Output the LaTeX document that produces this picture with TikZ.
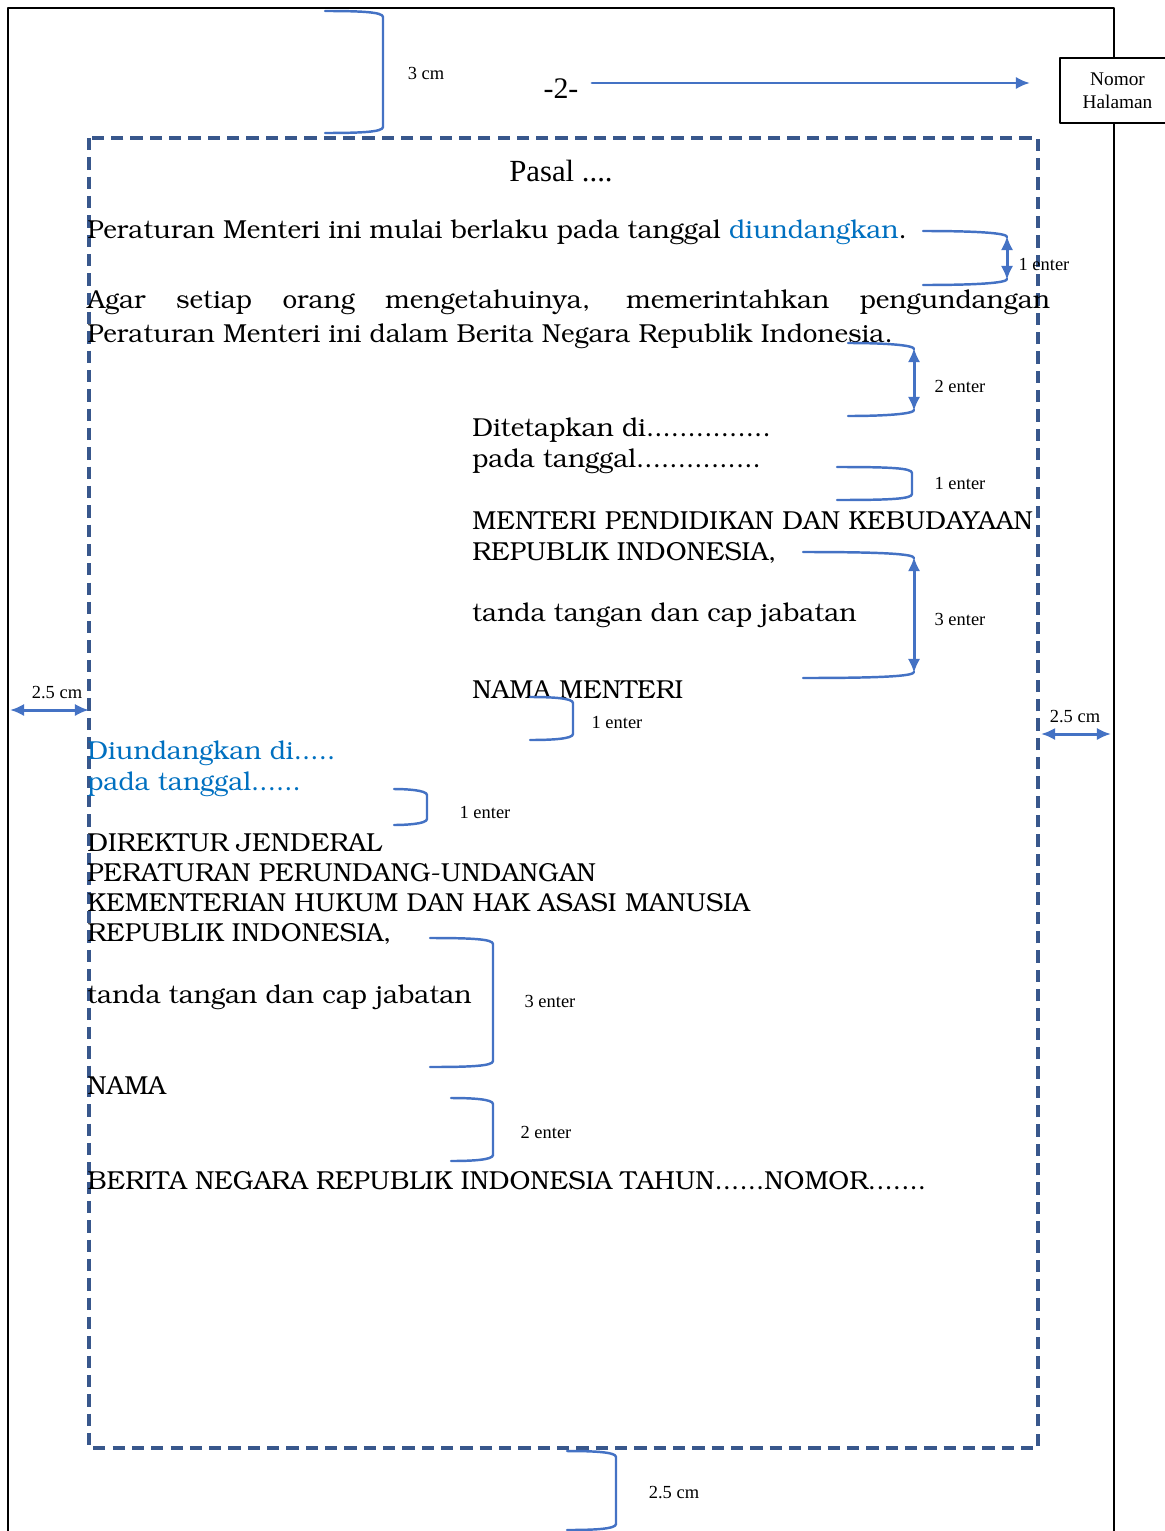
\documentclass[tikz,border=0pt]{standalone}
\usepackage[T1]{fontenc}
\usepackage{fontspec}
\setmainfont{Liberation Serif}
\usetikzlibrary{arrows.meta}
\definecolor{bracecol}{RGB}{68,114,196}
\definecolor{margincol}{RGB}{56,87,140}
\definecolor{txtblue}{RGB}{0,112,192}
\newcommand\bkfont{\fontencoding{T1}\fontfamily{pbk}\fontseries{l}\selectfont}
\begin{document}
\begin{tikzpicture}[x=0.02cm,y=-0.02cm,line cap=round,line join=round,
  >={Latex[length=8pt,width=7pt]},
  brak/.style={draw=bracecol,line width=1.4pt},
  arr/.style={draw=bracecol,line width=1.7pt},
  margin/.style={draw=margincol,line width=1.9pt,dash pattern=on 7pt off 4pt,line cap=butt},
  body/.style={anchor=base west,inner sep=0pt,font=\bkfont\fontsize{14.8}{17}\selectfont},
  lbl/.style={inner sep=0pt,font=\fontsize{10.5}{12}\selectfont}]
  \useasboundingbox (0,0) rectangle (1165,1531);
  \draw[line width=1.6pt,line cap=butt] (8,1545) -- (8,8) -- (1114,8) -- (1114,1545);
  \node[draw,fill=white,line width=1.4pt,minimum width=2.3cm,minimum height=1.3cm,
        align=center,font=\fontsize{11}{13}\selectfont] (nomor) at (1117.5,90.5) {Nomor\\Halaman};
  \node[font=\fontsize{17}{19}\selectfont] (pg) at (561,89) {-2-};
  \coordinate (pgs) at (592,83);
  \coordinate (pge) at (1030,83);
  \draw[arr,->] (pgs) -- (pge);
  \draw[margin] (89,138) rectangle (1038,1448);
  \node[font=\fontsize{17.5}{20}\selectfont] (pasal) at (561,171) {Pasal ....};
  % teks naskah
  \node[body] (berlaku) at (87,238) {Peraturan Menteri ini mulai berlaku pada tanggal \textcolor{txtblue}{diundangkan}.};
  \node[body] (agar) at (87,308) {\makebox[19.26cm][s]{Agar setiap orang mengetahuinya, memerintahkan pengundangan}};
  \node[body] (perintah) at (87,342) {Peraturan Menteri ini dalam Berita Negara Republik Indonesia.};
  \node[body] (tetap) at (472,436) {Ditetapkan di...............};
  \node[body] (tgl) at (472,467) {pada tanggal...............};
  \node[body] (menteri) at (472,529) {MENTERI PENDIDIKAN DAN KEBUDAYAAN};
  \node[body] (ri) at (472,560) {REPUBLIK INDONESIA,};
  \node[body] (ttd) at (472,621) {tanda tangan dan cap jabatan};
  \node[body] (namam) at (472,698) {NAMA MENTERI};
  \node[body,text=txtblue] (undang) at (87,759) {Diundangkan di.....};
  \node[body,text=txtblue] (tglb) at (87,790) {pada tanggal......};
  \node[body] (dirjen) at (87,851) {DIREKTUR JENDERAL};
  \node[body] (pp) at (87,881) {PERATURAN PERUNDANG-UNDANGAN};
  \node[body] (kem) at (87,911) {KEMENTERIAN HUKUM DAN HAK ASASI MANUSIA};
  \node[body] (rib) at (87,941) {REPUBLIK INDONESIA,};
  \node[body] (ttdb) at (87,1003) {tanda tangan dan cap jabatan};
  \node[body] (nama) at (87,1094) {NAMA};
  \node[body] (bn) at (87,1189) {BERITA NEGARA REPUBLIK INDONESIA TAHUN......NOMOR.......};
  % kurung jarak
  \foreach \xa/\xv/\ya/\yb in {325/383/11/133, 837/912/467/500, 530/573/697/740, 394/427/789/825,
                               430/493/938/1067, 451/493/1098/1161, 567/616/1451/1530}
    \draw[brak] (\xa,\ya) .. controls ({\xv-22},\ya) and (\xv,{\ya+1}) .. (\xv,{\ya+6})
      -- (\xv,{\yb-6}) .. controls (\xv,{\yb-1}) and ({\xv-22},\yb) .. (\xa,\yb);
  \foreach \xa/\xv/\ya/\yb in {923/1007/231/285, 848/914/343/416, 803/914/552/678} {
    \draw[brak] (\xa,\ya) .. controls ({\xv-30},\ya) and (\xv,{\ya+2}) .. (\xv,{\ya+6});
    \draw[brak] (\xa,\yb) .. controls ({\xv-30},\yb) and (\xv,{\yb-2}) .. (\xv,{\yb-6});
    \draw[arr,<->] (\xv,{\ya+5}) -- (\xv,{\yb-5});
  }
  \node[lbl] (l3cm) at (426,73) {3 cm};
  \node[lbl] (e1a) at (1044,264) {1 enter};
  \node[lbl] (e2a) at (960,386) {2 enter};
  \node[lbl] (e1b) at (960,483) {1 enter};
  \node[lbl] (e3a) at (960,619) {3 enter};
  \node[lbl] (e1c) at (617,722) {1 enter};
  \node[lbl] (e1d) at (485,812) {1 enter};
  \node[lbl] (e3b) at (550,1001) {3 enter};
  \node[lbl] (e2b) at (546,1132) {2 enter};
  \node[lbl] (lbot) at (674,1493) {2.5 cm};
  % margin kiri dan kanan
  \node[lbl] (lkiri) at (57,693) {2.5 cm};
  \coordinate (k1) at (10,710);
  \coordinate (k2) at (89,710);
  \draw[arr,<->] (k1) -- (k2);
  \node[lbl] (lkanan) at (1075,717) {2.5 cm};
  \coordinate (r1) at (1041,734);
  \coordinate (r2) at (1111,734);
  \draw[arr,<->] (r1) -- (r2);
\end{tikzpicture}
\end{document}
